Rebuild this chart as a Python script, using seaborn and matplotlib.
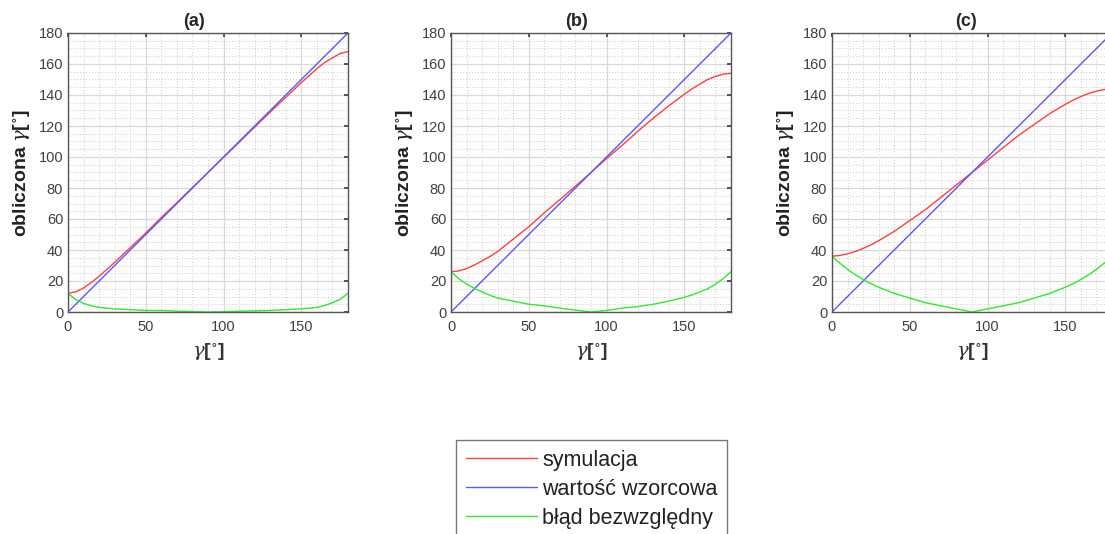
import numpy as np
import pandas as pd
import matplotlib
matplotlib.use("Agg")
import matplotlib.pyplot as plt
from matplotlib.ticker import MultipleLocator
import seaborn as sns

# ---- data ----
gamma = [0, 5, 10, 15, 20, 25, 30, 40, 50, 60, 70, 80, 90, 100, 110, 120, 130, 140, 150, 155, 160, 165, 170, 175, 180]
reference = [0, 5, 10, 15, 20, 25, 30, 40, 50, 60, 70, 80, 90, 100, 110, 120, 130, 140, 150, 155, 160, 165, 170, 175, 180]

sim_a = [12, 13, 15.5, 19, 23, 27.5, 32, 41.5, 51, 61, 70.5, 80.3, 90, 99.8, 109.5, 119.3, 129, 138.5, 148, 152.5, 157, 161, 164, 166.8, 168]
err_a = [12, 8, 5.5, 4, 3, 2.5, 2, 1.5, 1, 1, 0.5, 0.3, 0, 0.2, 0.5, 0.7, 1, 1.5, 2, 2.5, 3, 4.2, 6, 8.2, 12]

sim_b = [26, 26.5, 28, 30.3, 33, 35.8, 39, 47, 55, 64, 72.5, 81.2, 90, 99, 107.5, 116.5, 125, 133, 140.5, 144, 147, 150, 152, 153.5, 154]
err_b = [26, 21.5, 18, 15.3, 13, 10.8, 9, 7, 5, 4, 2.5, 1.2, 0, 1, 2.5, 3.5, 5, 7, 9.5, 11, 13, 15, 18, 21.5, 26]

sim_c = [36, 36.5, 37.5, 39, 41, 43.3, 46, 52, 59, 66, 74, 82, 90, 98, 106, 114, 121, 128, 134, 136.7, 139, 141, 142.5, 143.5, 144]
err_c = [36, 31.5, 27.5, 24, 21, 18.3, 16, 12, 9, 6, 4, 2, 0, 2, 4, 6, 9, 12, 16, 18.3, 21, 24, 27.5, 31.5, 36]

panels = ["(a)", "(b)", "(c)"]
series_names = ["symulacja", "wartość wzorcowa", "błąd bezwzględny"]
colors = ["#ff4040", "#5858ff", "#30e830"]

sns.set_theme(style="white")
plt.rcParams["font.family"] = ["Liberation Sans", "DejaVu Sans"]
plt.rcParams["mathtext.fontset"] = "dejavuserif"

fig = plt.figure(figsize=(11.05, 5.34), dpi=100)
W, H = 1105, 534
lefts = [68, 451, 832]
title_x = [0.45, 0.45, 0.48]
top, bottom, width = 33, 312, 280

sims = [sim_a, sim_b, sim_c]
errs = [err_a, err_b, err_c]
gray = "#404040"

for i in range(3):
    ax = fig.add_axes([lefts[i] / W, 1 - bottom / H, width / W, (bottom - top) / H])
    df = pd.DataFrame({
        "x": gamma * 3,
        "y": sims[i] + reference + errs[i],
        "s": [series_names[0]] * len(gamma) + [series_names[1]] * len(gamma) + [series_names[2]] * len(gamma),
    })
    sns.lineplot(data=df, x="x", y="y", hue="s", palette=colors, linewidth=1.0,
                 ax=ax, legend=False, sort=False, estimator=None)
    ax.set_xlim(0, 180)
    ax.set_ylim(0, 180)
    ax.xaxis.set_major_locator(MultipleLocator(50))
    ax.xaxis.set_minor_locator(MultipleLocator(10))
    ax.yaxis.set_major_locator(MultipleLocator(20))
    ax.yaxis.set_minor_locator(MultipleLocator(5))
    ax.grid(which="major", color="#d8d8d8", linewidth=0.9, linestyle="-")
    ax.grid(which="minor", color="#cccccc", linewidth=0.7, linestyle=(0, (1, 2)))
    ax.set_axisbelow(True)
    ax.tick_params(which="both", direction="in", top=True, right=True, colors=gray,
                   labelsize=10.5, length=3)
    ax.tick_params(axis="x", pad=6)
    ax.tick_params(which="minor", length=0)
    for lab in ax.get_xticklabels() + ax.get_yticklabels():
        lab.set_color(gray)
    for sp in ax.spines.values():
        sp.set_color("#555555")
        sp.set_linewidth(1.0)
    ax.set_title(panels[i], fontsize=13, fontweight="bold", pad=5, x=title_x[i])
    ax.set_xlabel(r"$\gamma$[$^{\circ}$]", fontsize=14, fontweight="bold", color="#333333", labelpad=5)
    ax.set_ylabel(r"obliczona $\gamma$[$^{\circ}$]", fontsize=14, fontweight="bold", color="#222222", labelpad=4)

handles = [plt.Line2D([], [], color=c, linewidth=1.0) for c in colors]
leg = fig.legend(handles, series_names, loc="upper left",
                 bbox_to_anchor=(456 / W, 1 - 440 / H), fontsize=15.5,
                 handlelength=3.3, handletextpad=0.25, labelspacing=0.37,
                 borderpad=0.45, borderaxespad=0.0, fancybox=False, frameon=True)
leg.get_frame().set_edgecolor("#555555")
leg.get_frame().set_linewidth(1.0)
for t in leg.get_texts():
    t.set_color("#222222")

fig.savefig("out.png", dpi=100)
